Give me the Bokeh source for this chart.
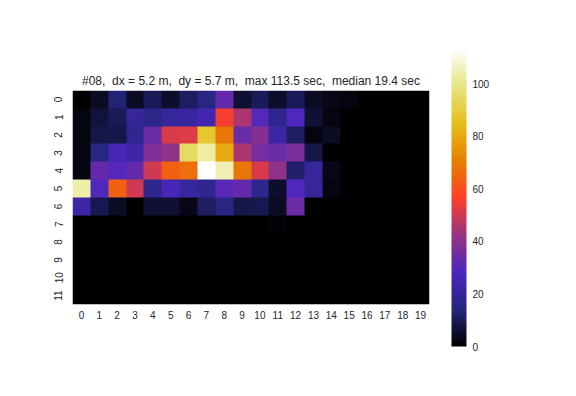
import numpy as np
from bokeh.plotting import figure
from bokeh.models import LinearColorMapper, FixedTicker, ColorBar
from bokeh.embed import file_html
from bokeh.resources import INLINE

# ---- data (values in seconds), rows 0..11, columns 0..19 ----
row_0 = [0, 4, 13, 4, 10, 5, 11, 15, 33, 6, 10, 5, 10, 4, 3, 2, 0, 0, 0, 0]
row_1 = [2, 7, 10, 20, 16, 20, 21, 25, 55, 45, 30, 17, 29, 6, 2, 0, 0, 0, 0, 0]
row_2 = [2, 8, 8, 18, 34, 51, 52, 88, 69, 34, 39, 23, 11, 2, 4, 0, 0, 0, 0, 0]
row_3 = [2, 15, 26, 23, 38, 41, 95, 103, 80, 45, 36, 34, 37, 8, 0, 0, 0, 0, 0, 0]
row_4 = [2, 33, 30, 33, 50, 64, 67, 113.5, 105, 69, 51, 41, 12, 20, 3, 0, 0, 0, 0, 0]
row_5 = [104, 29, 64, 50, 17, 27, 21, 18, 31, 33, 17, 5, 29, 20, 2, 0, 0, 0, 0, 0]
row_6 = [23, 9, 4, 0, 6, 6, 3, 11, 15, 8, 9, 4, 34, 0, 0, 0, 0, 0, 0, 0]
row_7 = [0, 0, 0, 0, 0, 0, 0, 0, 0, 0, 0, 1, 0, 0, 0, 0, 0, 0, 0, 0]
row_8 = [0] * 20
row_9 = [0] * 20
row_10 = [0] * 20
row_11 = [0] * 20
rows_data = [row_0, row_1, row_2, row_3, row_4, row_5, row_6, row_7,
             row_8, row_9, row_10, row_11]

x_labels = [str(i) for i in range(20)]
y_labels = [str(i) for i in range(12)]
cbar_ticks = [0, 20, 40, 60, 80, 100]
vmin, vmax = 0.0, 113.5
title_text = "#08,\u00a0 dx = 5.2 m,\u00a0 dy = 5.7 m,\u00a0 max 113.5 sec,\u00a0 median 19.4 sec"

# ---- CMRmap palette ----
_pos = [0.0, 0.125, 0.25, 0.375, 0.5, 0.625, 0.75, 0.875, 1.0]
_r = [0.0, 0.15, 0.30, 0.60, 1.00, 0.90, 0.90, 0.90, 1.00]
_g = [0.0, 0.15, 0.15, 0.20, 0.25, 0.50, 0.75, 0.90, 1.00]
_b = [0.0, 0.50, 0.75, 0.50, 0.15, 0.00, 0.10, 0.50, 1.00]
_t = np.linspace(0, 1, 256)
palette = ["#%02x%02x%02x" % (int(round(r * 255)), int(round(g * 255)), int(round(b * 255)))
           for r, g, b in zip(np.interp(_t, _pos, _r), np.interp(_t, _pos, _g), np.interp(_t, _pos, _b))]

n_rows = len(rows_data)
n_cols = len(rows_data[0])
# image row 0 is drawn at the bottom, so flip: data row 0 ends up on top
img = np.array(rows_data[::-1], dtype=float)
mapper = LinearColorMapper(palette=palette, low=vmin, high=vmax)

TXT = "#262626"
FONT = "Liberation Sans"

p = figure(frame_width=357, frame_height=214, width=560, height=380,
           x_range=(-0.5, n_cols - 0.5), y_range=(-0.5, n_rows - 0.5),
           output_backend="svg", toolbar_location=None,
           min_border_left=72, min_border_right=131, min_border_top=90, min_border_bottom=76,
           title=title_text)
p.image(image=[img], x=-0.5, y=-0.5, dw=n_cols, dh=n_rows, color_mapper=mapper)
p.grid.visible = False
p.outline_line_color = None
p.background_fill_color = "white"
p.border_fill_color = "white"
p.xaxis.ticker = FixedTicker(ticks=list(range(n_cols)))
p.yaxis.ticker = FixedTicker(ticks=list(range(n_rows)))
p.xaxis.major_label_overrides = {i: s for i, s in enumerate(x_labels)}
p.yaxis.major_label_overrides = {n_rows - 1 - i: s for i, s in enumerate(y_labels)}
p.yaxis.major_label_orientation = "vertical"
for ax in (p.xaxis, p.yaxis):
    ax.axis_line_color = None
    ax.major_tick_line_color = None
    ax.minor_tick_line_color = None
    ax.major_label_text_font = FONT
    ax.major_label_text_font_size = "10px"
    ax.major_label_text_color = TXT
p.xaxis.major_label_standoff = 0
p.yaxis.major_label_standoff = 4
p.title.align = "center"
p.title.text_font = FONT
p.title.text_font_size = "12px"
p.title.text_font_style = "normal"
p.title.text_color = TXT
p.title.standoff = 6

cb = ColorBar(color_mapper=mapper, ticker=FixedTicker(ticks=cbar_ticks),
              width=15, height=298, padding=0, margin=0,
              location=(379, -42),
              border_line_color=None, background_fill_alpha=0,
              bar_line_color=None, major_tick_line_color=None, minor_tick_line_color=None,
              major_label_text_font=FONT, major_label_text_font_size="10px",
              major_label_text_color=TXT, label_standoff=6)
p.add_layout(cb, "center")

open("out.html", "w").write(file_html(p, INLINE))
